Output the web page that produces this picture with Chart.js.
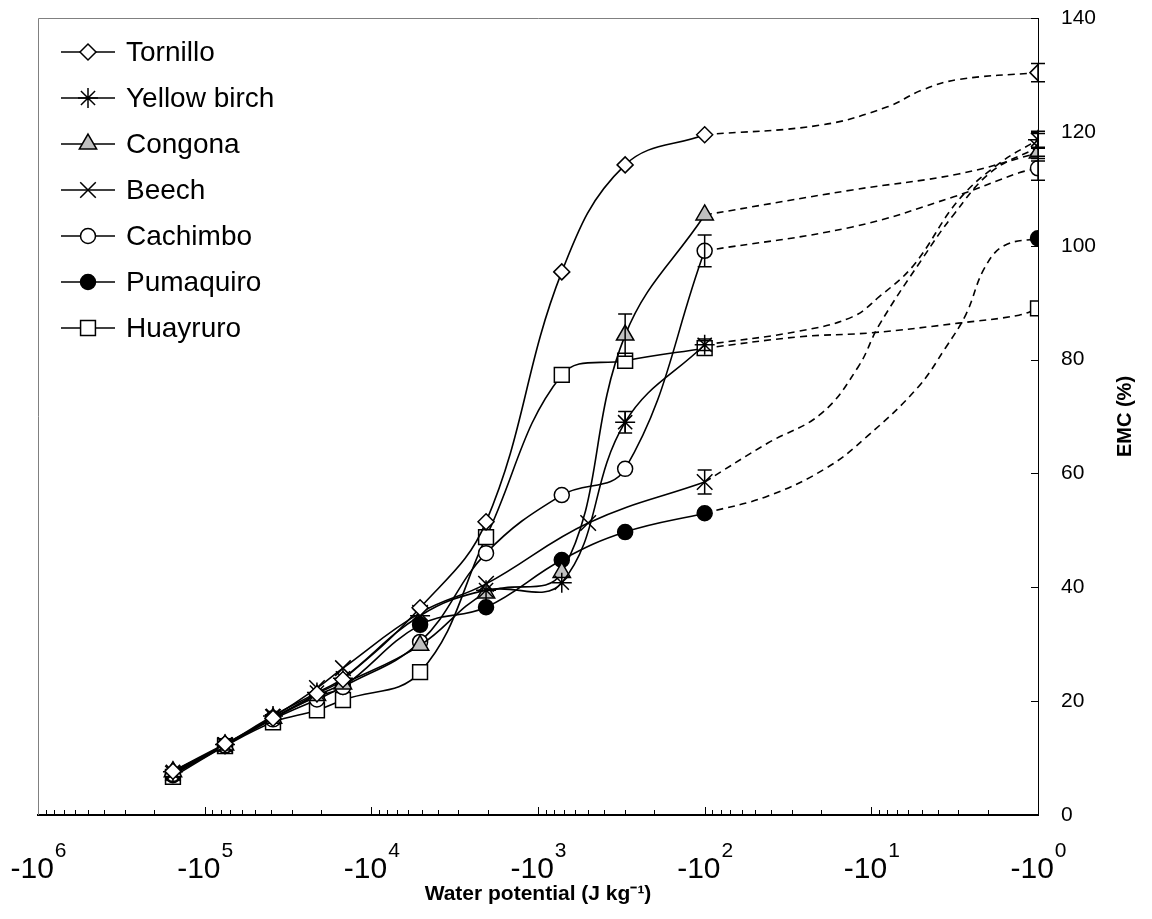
<!DOCTYPE html>
<html>
<head>
<meta charset="utf-8">
<script src="https://cdn.jsdelivr.net/npm/chart.js@4.4.1/dist/chart.umd.min.js"></script>
<style>
  html, body { margin: 0; padding: 0; background: #fff; }
</style>
</head>
<body>
<canvas id="emcChart" width="1152" height="919"></canvas>
<script>
// water potential (absolute value, J/kg) of the measured points
var psiMain  = [155000, 75500, 38900, 21200, 14800, 5100, 2050, 720, 300, 100];
var psiBeech = [155000, 75500, 38900, 21200, 14800, 5100, 2050, 500, 100];

var speciesNames = ['Tornillo', 'Yellow birch', 'Congona', 'Beech', 'Cachimbo', 'Pumaquiro', 'Huayruro'];

// EMC (%) measured
var tornilloEmc = [7.7, 12.5, 17.0, 21.3, 23.8, 36.4, 51.5, 95.4, 114.2, 119.5];
var birchEmc    = [7.6, 12.4, 17.4, 21.5, 24.0, 35.0, 39.5, 40.8, 69.0, 82.6];
var congonaEmc  = [7.6, 12.3, 17.0, 21.0, 23.0, 29.8, 39.0, 42.6, 84.3, 105.4];
var beechEmc    = [7.3, 12.3, 17.2, 22.3, 25.8, 35.5, 40.6, 51.3, 58.5];
var cachimboEmc = [7.2, 12.2, 16.8, 20.3, 22.5, 30.4, 46.0, 56.2, 60.8, 99.1];
var pumaEmc     = [7.0, 12.2, 17.0, 20.8, 22.5, 33.4, 36.5, 44.8, 49.7, 53.0];
var huayEmc     = [6.7, 12.1, 16.3, 18.4, 20.2, 25.1, 48.8, 77.3, 79.8, 82.0];

// standard deviation bars on measured points
var tornilloErr = [0, 0, 0, 0, 0, 0, 0, 0, 0, 0];
var birchErr    = [0, 0, 0, 0, 0, 0, 0, 0, 1.9, 1.0];
var congonaErr  = [0, 0, 0, 0, 0, 0, 0, 0, 3.7, 0];
var beechErr    = [0, 0, 0, 0, 0, 0, 0, 0, 2.1];
var cachimboErr = [0, 0, 0, 0, 0, 0, 0, 0, 0, 2.8];
var pumaErr     = [0, 0, 0, 0, 0, 0, 0, 0, 0, 0];
var huayErr     = [0, 0, 0, 0, 0, 0, 0, 0, 0, 0];

// dashed part up to saturation (-1 J/kg)
var tornilloTailPsi = [100, 20, 8, 5, 3, 1];
var tornilloTailEmc = [119.5, 121.2, 124.4, 127.3, 129.2, 130.4];
var birchTailPsi    = [100, 27, 13, 9, 5.6, 3, 1.7, 1];
var birchTailEmc    = [82.6, 85.0, 87.5, 91.0, 96.5, 108.0, 114.5, 118.6];
var congonaTailPsi  = [100, 13, 3, 1];
var congonaTailEmc  = [105.4, 109.8, 112.6, 116.3];
var beechTailPsi    = [100, 42, 20, 12, 9, 5, 3.2, 1.9, 1];
var beechTailEmc    = [58.5, 65.3, 70.5, 78.7, 86.0, 97.5, 105.5, 113.0, 117.3];
var cachimboTailPsi = [100, 13, 3.2, 1.3, 1];
var cachimboTailEmc = [99.1, 103.3, 108.6, 112.8, 113.6];
var pumaTailPsi     = [100, 42, 18.5, 10.6, 5.3, 3.6, 2.7, 2.1, 1.6, 1];
var pumaTailEmc     = [53.0, 56.0, 61.0, 66.5, 75.0, 82.0, 88.0, 96.0, 100.0, 101.3];
var huayTailPsi     = [100, 27, 10, 3, 1.3, 1];
var huayTailEmc     = [82.0, 84.0, 84.7, 86.4, 87.8, 89.0];
var tailEndErr      = [1.6, 1.5, 1.0, 2.4, 2.1, 0, 0];

// axis ticks: -10^n
var xTickValues    = [1e6, 1e5, 1e4, 1e3, 1e2, 1e1, 1];
var xTickExponents = ['6', '5', '4', '3', '2', '1', '0'];
var yTickValues    = [0, 20, 40, 60, 80, 100, 120, 140];

var psiSets  = [psiMain, psiMain, psiMain, psiBeech, psiMain, psiMain, psiMain];
var emcSets  = [tornilloEmc, birchEmc, congonaEmc, beechEmc, cachimboEmc, pumaEmc, huayEmc];
var errSets  = [tornilloErr, birchErr, congonaErr, beechErr, cachimboErr, pumaErr, huayErr];
var tailPsi  = [tornilloTailPsi, birchTailPsi, congonaTailPsi, beechTailPsi, cachimboTailPsi, pumaTailPsi, huayTailPsi];
var tailEmc  = [tornilloTailEmc, birchTailEmc, congonaTailEmc, beechTailEmc, cachimboTailEmc, pumaTailEmc, huayTailEmc];

var FONT = "'Liberation Sans', Arial, Helvetica, sans-serif";

// marker look per species
var markers = [
  { style: 'rectRot',  radius: 8,  fill: '#ffffff' },
  { style: 'star',     radius: 10, fill: '#ffffff' },
  { style: 'triangle', radius: 10, fill: '#c0c0c0' },
  { style: 'crossRot', radius: 11, fill: '#ffffff' },
  { style: 'circle',   radius: 7.5, fill: '#ffffff' },
  { style: 'circle',   radius: 7.5, fill: '#000000' },
  { style: 'rect',     radius: 10.5, fill: '#ffffff' }
];

function toPoints(xs, ys) {
  return xs.map(function (p, j) { return { x: p, y: ys[j] }; });
}

var datasets = [];
var errorBars = [];
for (var i = 0; i < speciesNames.length; i++) {
  var m = markers[i];
  // dashed tail (marker only at the saturated end)
  var lastIdx = tailPsi[i].length - 1;
  datasets.push({
    label: speciesNames[i] + ' tail',
    data: toPoints(tailPsi[i], tailEmc[i]),
    borderColor: '#000',
    borderWidth: 1.6,
    borderDash: [7, 5],
    tension: 0.4,
    fill: false,
    pointStyle: m.style,
    pointRadius: (function (li, r) { return function (c) { return c.dataIndex === li ? r : 0; }; })(lastIdx, m.radius),
    pointBackgroundColor: m.fill,
    pointBorderColor: '#000',
    pointBorderWidth: 1.5,
    order: 2
  });
  datasets.push({
    label: speciesNames[i],
    data: toPoints(psiSets[i], emcSets[i]),
    borderColor: '#000',
    borderWidth: 1.6,
    tension: 0.4,
    fill: false,
    pointStyle: m.style,
    pointRadius: m.radius,
    pointBackgroundColor: m.fill,
    pointBorderColor: '#000',
    pointBorderWidth: 1.5,
    order: 1
  });
  errSets[i].forEach(function (e, j) {
    if (e > 0) errorBars.push({ x: psiSets[i][j], y: emcSets[i][j], e: e });
  });
  if (tailEndErr[i] > 0) errorBars.push({ x: tailPsi[i][lastIdx], y: tailEmc[i][lastIdx], e: tailEndErr[i] });
}

var framePlugin = {
  id: 'frame',
  beforeDatasetsDraw: function (chart) {
    var ctx = chart.ctx, a = chart.chartArea;
    ctx.save();
    ctx.strokeStyle = '#808080';
    ctx.lineWidth = 1;
    ctx.beginPath();
    ctx.moveTo(a.left + 0.5, a.bottom);
    ctx.lineTo(a.left + 0.5, a.top + 0.5);
    ctx.lineTo(a.right, a.top + 0.5);
    ctx.stroke();
    // inside tick marks
    var xs = chart.scales.x, ys = chart.scales.y;
    ctx.strokeStyle = '#000';
    ctx.beginPath();
    for (var e = 0; e < 6; e++) {
      for (var k = 1; k <= 9; k++) {
        var px = Math.round(xs.getPixelForValue(k * Math.pow(10, e))) + 0.5;
        var len = k === 1 ? 8 : 5;
        ctx.moveTo(px, a.bottom);
        ctx.lineTo(px, a.bottom - len);
      }
    }
    yTickValues.forEach(function (v) {
      var py = Math.round(ys.getPixelForValue(v)) + 0.5;
      ctx.moveTo(a.right, py);
      ctx.lineTo(a.right - 7, py);
    });
    ctx.stroke();
    ctx.restore();
  }
};

var errorPlugin = {
  id: 'errorBars',
  afterDatasetsDraw: function (chart) {
    var ctx = chart.ctx, xs = chart.scales.x, ys = chart.scales.y;
    ctx.save();
    ctx.strokeStyle = '#000';
    ctx.lineWidth = 1.5;
    ctx.beginPath();
    errorBars.forEach(function (b) {
      var px = xs.getPixelForValue(b.x);
      var top = ys.getPixelForValue(b.y + b.e);
      var bot = ys.getPixelForValue(b.y - b.e);
      ctx.moveTo(px, top); ctx.lineTo(px, bot);
      ctx.moveTo(px - 7, top); ctx.lineTo(px + 7, top);
      ctx.moveTo(px - 7, bot); ctx.lineTo(px + 7, bot);
    });
    ctx.stroke();
    ctx.restore();
  }
};

var textPlugin = {
  id: 'texts',
  afterDraw: function (chart) {
    var ctx = chart.ctx, a = chart.chartArea, xs = chart.scales.x;
    ctx.save();
    // legend inside the plot
    ctx.font = '28px ' + FONT;
    ctx.textBaseline = 'middle';
    ctx.textAlign = 'left';
    for (var i = 0; i < speciesNames.length; i++) {
      var y = 52 + i * 46;
      ctx.strokeStyle = '#000';
      ctx.lineWidth = 1.6;
      ctx.beginPath();
      ctx.moveTo(61, y);
      ctx.lineTo(115, y);
      ctx.stroke();
      ctx.fillStyle = markers[i].fill;
      ctx.lineWidth = 1.5;
      Chart.helpers.drawPoint(ctx, { pointStyle: markers[i].style, radius: markers[i].radius, borderWidth: 1.5, rotation: 0 }, 88, y);
      ctx.fillStyle = '#000';
      ctx.fillText(speciesNames[i], 126, y + 1);
    }
    // x tick labels with raised exponent
    ctx.textBaseline = 'alphabetic';
    xTickValues.forEach(function (v, k) {
      ctx.font = '30px ' + FONT;
      var base = '-10';
      var wb = ctx.measureText(base).width;
      ctx.font = '21px ' + FONT;
      var we = ctx.measureText(xTickExponents[k]).width;
      var cx = xs.getPixelForValue(v);
      var x0 = Math.max(cx - (wb + we) / 2, 3);
      ctx.font = '30px ' + FONT;
      ctx.fillText(base, x0, 878);
      ctx.font = '21px ' + FONT;
      ctx.fillText(xTickExponents[k], x0 + wb + 1, 857);
    });
    // right axis title, reading bottom to top
    ctx.translate(1125, (a.top + a.bottom) / 2);
    ctx.rotate(-Math.PI / 2);
    ctx.font = 'bold 20px ' + FONT;
    ctx.textAlign = 'center';
    ctx.textBaseline = 'middle';
    ctx.fillText('EMC (%)', 0, 0);
    ctx.restore();
  }
};

new Chart(document.getElementById('emcChart').getContext('2d'), {
  type: 'line',
  data: { datasets: datasets },
  options: {
    responsive: false,
    animation: false,
    devicePixelRatio: 1,
    layout: { padding: { left: 38, top: 18, right: 0, bottom: 0 } },
    plugins: {
      legend: { display: false },
      tooltip: { enabled: false }
    },
    scales: {
      x: {
        type: 'logarithmic',
        reverse: true,
        min: 1,
        max: 1e6,
        position: 'bottom',
        afterFit: function (s) {
          s.height = 104;
          s.paddingLeft = 0; s.paddingRight = 0;
        },
        afterBuildTicks: function (s) { s.ticks = xTickValues.map(function (v) { return { value: v }; }); },
        grid: { display: true, drawOnChartArea: false, drawTicks: false },
        border: { display: true, color: '#000', width: 2 },
        ticks: { display: false },
        title: {
          display: true,
          text: 'Water potential (J kg\u207b\u00b9)',
          color: '#000',
          font: { family: FONT, size: 21, weight: 'bold' },
          padding: { top: 0, bottom: 12 }
        }
      },
      y: {
        type: 'linear',
        position: 'right',
        min: 0,
        max: 140,
        afterFit: function (s) {
          s.width = 114;
          s.paddingTop = 0; s.paddingBottom = 0;
        },
        afterBuildTicks: function (s) { s.ticks = yTickValues.map(function (v) { return { value: v }; }); },
        grid: { display: true, drawOnChartArea: false, drawTicks: false },
        border: { display: true, color: '#000', width: 1 },
        ticks: {
          padding: 23,
          color: '#000',
          font: { family: FONT, size: 21 }
        }
      }
    }
  },
  plugins: [framePlugin, errorPlugin, textPlugin]
});
</script>
</body>
</html>
